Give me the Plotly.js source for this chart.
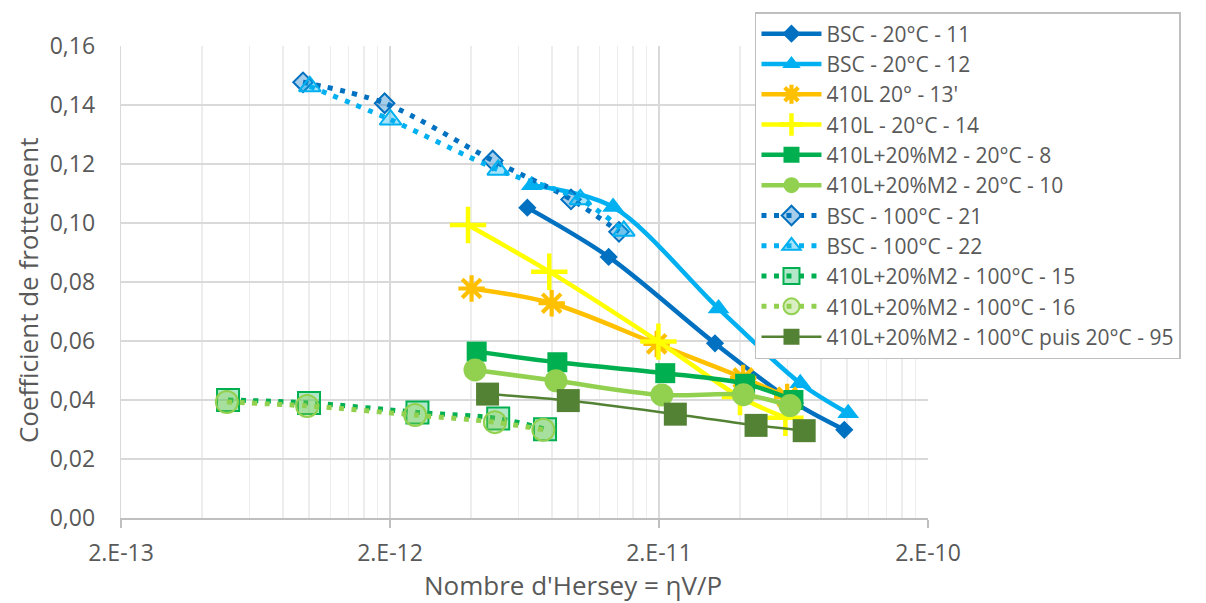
<!DOCTYPE html>
<html>
<head>
<meta charset="utf-8">
<script src="https://cdn.plot.ly/plotly-3.0.1.min.js"></script>
<style>
  html, body { margin: 0; padding: 0; background: #ffffff; }
  #chart { width: 1206px; height: 603px; }
</style>
</head>
<body>
<div id="chart"></div>
<script>
// ---- Data ----
const seriesNames = [
  "BSC - 20°C - 11",
  "BSC - 20°C - 12",
  "410L 20° - 13'",
  "410L - 20°C - 14",
  "410L+20%M2 - 20°C - 8",
  "410L+20%M2 - 20°C - 10",
  "BSC - 100°C - 21",
  "BSC - 100°C - 22",
  "410L+20%M2 - 100°C - 15",
  "410L+20%M2 - 100°C - 16",
  "410L+20%M2 - 100°C puis 20°C - 95"
];

const x11 = [6.48e-12, 1.30e-11, 3.23e-11, 6.4e-11, 9.77e-11];
const y11 = [0.1052, 0.0885, 0.0592, 0.0390, 0.0299];

const x12 = [6.73e-12, 1.35e-11, 3.33e-11, 6.7e-11, 1.01e-10];
const y12 = [0.1128, 0.1054, 0.0710, 0.0457, 0.0355];

const x13 = [4.02e-12, 7.98e-12, 1.96e-11, 4.11e-11, 5.99e-11];
const y13 = [0.0778, 0.0728, 0.0590, 0.0475, 0.0410];

const x14 = [3.90e-12, 7.82e-12, 1.99e-11, 4.00e-11, 5.90e-11];
const y14 = [0.0993, 0.0835, 0.0598, 0.0410, 0.0340];

const x8 = [4.20e-12, 8.38e-12, 2.11e-11, 4.18e-11, 6.32e-11];
const y8 = [0.0564, 0.0528, 0.0491, 0.0455, 0.0400];

const x10 = [4.14e-12, 8.28e-12, 2.05e-11, 4.12e-11, 6.14e-11];
const y10 = [0.0502, 0.0465, 0.0417, 0.0418, 0.0381];

const x21 = [9.50e-13, 1.91e-12, 4.82e-12, 9.42e-12, 1.42e-11];
const y21 = [0.1477, 0.1406, 0.1212, 0.1080, 0.0970];

const x22 = [1.007e-12, 2.01e-12, 5.05e-12, 1.02e-11, 1.48e-11];
const y22 = [0.1463, 0.1350, 0.1180, 0.1080, 0.0973];

const x15 = [5.00e-13, 1.00e-12, 2.53e-12, 5.05e-12, 7.54e-12];
const y15 = [0.0400, 0.0390, 0.0358, 0.0337, 0.0301];

const x16 = [4.95e-13, 9.84e-13, 2.48e-12, 4.91e-12, 7.43e-12];
const y16 = [0.0393, 0.0380, 0.0349, 0.0325, 0.0299];

const x95 = [4.61e-12, 9.20e-12, 2.30e-11, 4.59e-11, 6.93e-11];
const y95 = [0.0420, 0.0398, 0.0352, 0.0314, 0.0296];

// Axis labels
const xTickVals = [2e-13, 2e-12, 2e-11, 2e-10];
const xTickText = ["2.E-13", "2.E-12", "2.E-11", "2.E-10"];
const xTitle = "Nombre d'Hersey = ηV/P";
const yTitle = "Coefficient de frottement";

// ---- Styling ----
const C_DBLUE = "#0070C0", C_LBLUE = "#00B0F0", C_ORANGE = "#FFC000",
      C_YELLOW = "#FFFF00", C_GREEN = "#00B050", C_LGREEN = "#92D050",
      C_OLIVE = "#548235";
const TXT = "#595959";
const FONT = "Open Sans, Noto Sans, sans-serif";

function solid(name, x, y, color, symbol, size, lw) {
  return {
    type: "scatter", mode: "lines+markers", name: name, x: x, y: y,
    line: { color: color, width: lw || 4.5, shape: "spline", smoothing: 0.9 },
    marker: { symbol: symbol, size: size, color: color, line: { width: 0 } }
  };
}
function openSym(name, x, y, color, symbol, size, mlw) {
  return {
    type: "scatter", mode: "lines+markers", name: name, x: x, y: y,
    line: { color: color, width: 4.5, shape: "spline", smoothing: 0.9 },
    marker: { symbol: symbol, size: size, color: color, line: { color: color, width: mlw } }
  };
}
function dotted(name, x, y, color, tint, symbol, size) {
  return {
    type: "scatter", mode: "lines+markers", name: name, x: x, y: y,
    line: { color: color, width: 5, dash: "5px,7.5px", shape: "spline", smoothing: 0.9 },
    marker: { symbol: symbol, size: size, color: tint, line: { color: color, width: 2 } }
  };
}

const traces = [
  solid(seriesNames[0], x11, y11, C_DBLUE, "diamond", 14),
  solid(seriesNames[1], x12, y12, C_LBLUE, "triangle-up", 19),
  openSym(seriesNames[2], x13, y13, C_ORANGE, "asterisk-open", 22, 4.2),
  openSym(seriesNames[3], x14, y14, C_YELLOW, "cross-thin-open", 26, 4.5),
  solid(seriesNames[4], x8, y8, C_GREEN, "square", 20),
  solid(seriesNames[5], x10, y10, C_LGREEN, "circle", 23),
  dotted(seriesNames[6], x21, y21, C_DBLUE, "rgba(0,112,192,0.35)", "diamond", 15),
  dotted(seriesNames[7], x22, y22, C_LBLUE, "rgba(0,176,240,0.35)", "triangle-up", 19),
  dotted(seriesNames[8], x15, y15, C_GREEN, "rgba(0,176,80,0.30)", "square", 22),
  dotted(seriesNames[9], x16, y16, C_LGREEN, "rgba(146,208,80,0.35)", "circle", 22),
  solid(seriesNames[10], x95, y95, C_OLIVE, "square", 23, 2.5)
];

// minor grid values: k * decade-start for k = 2..9
const minorVals = [];
[2e-13, 2e-12, 2e-11].forEach(function (d) {
  for (let k = 2; k <= 9; k++) minorVals.push(k * d);
});

const layout = {
  width: 1206, height: 603,
  paper_bgcolor: "#ffffff", plot_bgcolor: "#ffffff",
  separators: ", ",
  font: { family: FONT, color: TXT, size: 23 },
  margin: { l: 121, r: 278, t: 46, b: 85, autoexpand: false },
  showlegend: true,
  xaxis: {
    type: "log",
    range: [Math.log10(2e-13), Math.log10(2e-10)],
    tickmode: "array", tickvals: xTickVals, ticktext: xTickText,
    tickfont: { family: FONT, size: 23, color: TXT },
    showgrid: true, gridcolor: "#D9D9D9", gridwidth: 1.3,
    minor: { tickmode: "array", tickvals: minorVals, showgrid: true,
             gridcolor: "#EDEDED", gridwidth: 1.2, ticks: "" },
    showline: true, linecolor: "#BFBFBF", linewidth: 1.5,
    ticks: "outside", ticklen: 8, tickcolor: "#BFBFBF", tickwidth: 1.5,
    ticklabelstandoff: 6,
    zeroline: false
  },
  yaxis: {
    range: [0, 0.16], dtick: 0.02, tick0: 0, tickformat: ".2f",
    tickfont: { family: FONT, size: 23, color: TXT },
    showgrid: true, gridcolor: "#D9D9D9", gridwidth: 1.3,
    showline: true, linecolor: "#D9D9D9", linewidth: 1.3,
    ticks: "", ticklabelstandoff: 20,
    zeroline: false
  },
  legend: {
    x: 0.7856, y: 1.072, xanchor: "left", yanchor: "top",
    xref: "paper", yref: "paper",
    maxheight: 400,
    bgcolor: "#ffffff", bordercolor: "#BFBFBF", borderwidth: 1.5,
    font: { family: FONT, size: 21, color: TXT },
    itemwidth: 60, tracegroupgap: 0
  },
  annotations: [
    { text: xTitle, xref: "paper", yref: "paper", x: 0.560, y: -0.142,
      xanchor: "center", yanchor: "middle", showarrow: false,
      font: { family: FONT, size: 26, color: TXT } },
    { text: yTitle, xref: "paper", yref: "paper", x: -0.1152, y: 0.483,
      xanchor: "center", yanchor: "middle", showarrow: false, textangle: -90,
      font: { family: FONT, size: 26, color: TXT } }
  ]
};

Plotly.newPlot("chart", traces, layout, { staticPlot: true, displayModeBar: false });
</script>
</body>
</html>
